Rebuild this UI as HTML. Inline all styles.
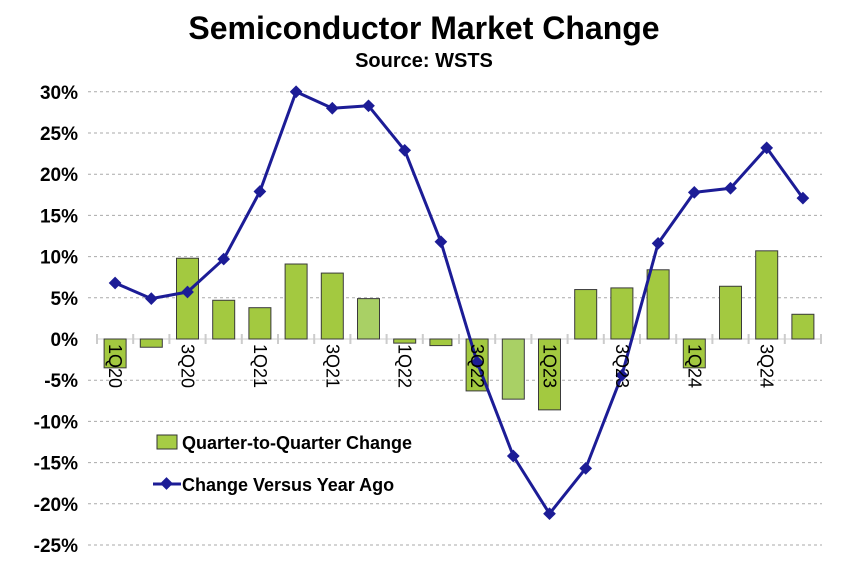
<!DOCTYPE html>
<html><head><meta charset="utf-8"><style>
body{margin:0;background:#fff;}
svg{display:block;font-family:"Liberation Sans",Arial,sans-serif;}
</style></head><body>
<svg id="chart" width="864" height="588" viewBox="0 0 864 588">
<text x="424" y="39" text-anchor="middle" font-size="32" font-weight="bold">Semiconductor Market Change</text>
<text x="424" y="67" text-anchor="middle" font-size="20" font-weight="bold">Source: WSTS</text>
<g id="grid"></g><g id="bars"></g><g id="line"></g><g id="labels"></g>
<g>
<rect x="157" y="435" width="20" height="14" fill="#a6cc45" stroke="#333" stroke-width="1"/>
<text x="182" y="449" font-size="18" font-weight="bold">Quarter-to-Quarter Change</text>
<line x1="153" y1="484" x2="181" y2="484" stroke="#1c1c96" stroke-width="3"/>
<rect x="162" y="479" width="9" height="9" fill="#1c1c96" transform="rotate(45 166.5 483.5)"/>
<text x="182" y="491" font-size="18" font-weight="bold">Change Versus Year Ago</text>
</g>
</svg>
<script>
const categories=["1Q20","2Q20","3Q20","4Q20","1Q21","2Q21","3Q21","4Q21","1Q22","2Q22","3Q22","4Q22","1Q23","2Q23","3Q23","4Q23","1Q24","2Q24","3Q24","4Q24"];
const qoqValues=[-3.5,-1.0,9.8,4.7,3.8,9.1,8.0,4.9,-0.5,-0.8,-6.3,-7.3,-8.6,6.0,6.2,8.4,-3.5,6.4,10.7,3.0];
const yoyValues=[6.8,4.9,5.7,9.7,17.9,30.0,28.0,28.3,22.9,11.8,-2.8,-14.2,-21.2,-15.7,-4.4,11.6,17.8,18.3,23.2,17.1];
const yTicks=[30,25,20,15,10,5,0,-5,-10,-15,-20,-25];
const lightBars=["4Q21","4Q22"];
const NS="http://www.w3.org/2000/svg";
const x0=97,cw=36.2,yZero=339,pxPer=8.24;
const xc=i=>x0+cw*(i+0.5);
const y=v=>yZero-v*pxPer;
function mk(tag,attrs,parent){const e=document.createElementNS(NS,tag);for(const k in attrs)e.setAttribute(k,attrs[k]);parent.appendChild(e);return e;}
const grid=document.getElementById('grid'),bars=document.getElementById('bars'),line=document.getElementById('line'),labels=document.getElementById('labels');
yTicks.forEach(t=>{
 if(t!==0){const g=mk('line',{x1:88,x2:822,y1:y(t),y2:y(t),stroke:'#aaa','stroke-width':1,'stroke-dasharray':'3,3'},grid);
 
 }
 const tx=mk('text',{x:78,y:y(t)+7,'text-anchor':'end','font-size':19,'font-weight':'bold'},grid);
 tx.textContent=t+'%';
 
 
});
const zl=mk('line',{x1:x0,x2:x0+cw*20,y1:yZero,y2:yZero,stroke:'#ccc','stroke-width':1},grid);


for(let i=0;i<=20;i++){const tk=mk('line',{x1:x0+cw*i,x2:x0+cw*i,y1:yZero-5,y2:yZero+5,stroke:'#ccc','stroke-width':2},grid);
 
 }
categories.forEach((c,i)=>{
 const v=qoqValues[i],top=Math.min(y(v),yZero),h=Math.abs(y(v)-yZero);
 const b=mk('rect',{x:xc(i)-11,y:top,width:22,height:Math.max(h,1),fill:lightBars.includes(c)?'#a9d065':'#a3c940',stroke:'#3a3a3a','stroke-width':1},bars);
 
 
 if(i%2===0){const t=mk('text',{x:xc(i),y:yZero+5,'font-size':18,'dominant-baseline':'central',transform:`rotate(90 ${xc(i)} ${yZero+5})`},labels);
 t.textContent=c;
 
 }
});
const pts=yoyValues.map((v,i)=>xc(i)+','+y(v)).join(' ');
const pl=mk('polyline',{points:pts,fill:'none',stroke:'#1c1c96','stroke-width':3,'stroke-linejoin':'round'},line);


yoyValues.forEach((v,i)=>{
 const m=mk('rect',{x:xc(i)-4.5,y:y(v)-4.5,width:9,height:9,fill:'#1c1c96',transform:`rotate(45 ${xc(i)} ${y(v)})`},line);
 
 
});
</script>
</body></html>
